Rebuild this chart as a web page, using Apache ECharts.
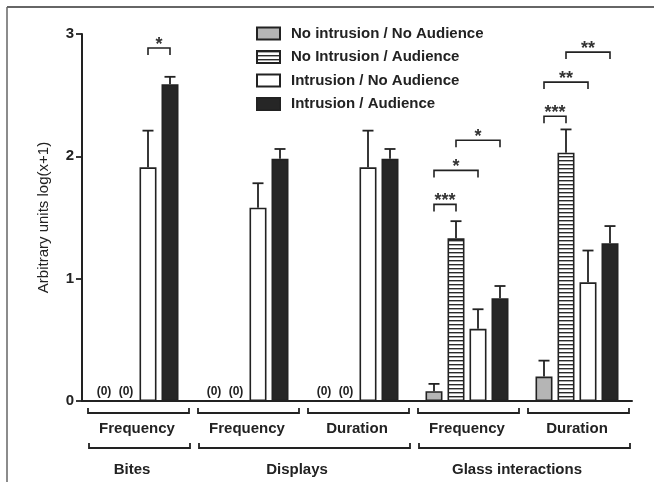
<!DOCTYPE html>
<html>
<head>
<meta charset="utf-8">
<script src="https://cdn.jsdelivr.net/npm/echarts@6/dist/echarts.min.js"></script>
<style>
html,body{margin:0;padding:0;background:#fff;}
#c{width:654px;height:482px;}
</style>
</head>
<body>
<div id="c"></div>
<script>
// ---- data ----
const categories = ['Frequency', 'Frequency', 'Duration', 'Frequency', 'Duration'];
const groupNames = ['Bites', 'Displays', 'Glass interactions'];
const groupFrom = [0, 1, 3];
const groupTo = [0, 2, 4];
const seriesNames = ['No intrusion / No Audience', 'No Intrusion / Audience', 'Intrusion / No Audience', 'Intrusion / Audience'];
const noIntNoAud = [0, 0, 0, 0.08, 0.20];
const noIntNoAudErr = [null, null, null, 0.14, 0.33];
const noIntAud = [0, 0, 0, 1.33, 2.03];
const noIntAudErr = [null, null, null, 1.47, 2.22];
const intNoAud = [1.91, 1.58, 1.91, 0.59, 0.97];
const intNoAudErr = [2.21, 1.78, 2.21, 0.75, 1.23];
const intAud = [2.59, 1.98, 1.98, 0.84, 1.29];
const intAudErr = [2.65, 2.06, 2.06, 0.94, 1.43];
const yTicks = [0, 1, 2, 3];
// significance: category, series A, series B, bracket level, label
const sigCat = [0, 3, 3, 3, 4, 4, 4];
const sigA = [2, 0, 0, 1, 0, 0, 1];
const sigB = [3, 1, 2, 3, 1, 2, 3];
const sigLevel = [2.885, 1.607, 1.885, 2.131, 2.328, 2.607, 2.852];
const sigLabel = ['*', '***', '*', '*', '***', '**', '**'];

// ---- style ----
const FONT = "'Liberation Sans', Arial, sans-serif";
const INK = '#222';
const BAR_W = 17;
const GAP_PX = 5;

const stripe = document.createElement('canvas');
stripe.width = 4; stripe.height = 4;
(function () {
  const g = stripe.getContext('2d');
  g.fillStyle = '#fff'; g.fillRect(0, 0, 4, 4);
  g.fillStyle = '#2a2a2a'; g.fillRect(0, 0, 4, 1.4);
})();

const values = [noIntNoAud, noIntAud, intNoAud, intAud];
const errs = [noIntNoAudErr, noIntAudErr, intNoAudErr, intAudErr];
const fills = ['#b5b5b5', { image: stripe, repeat: 'repeat' }, '#ffffff', '#262626'];

function offsetOf(s) { return (s - 1.5) * (BAR_W + GAP_PX); }

const barSeries = values.map((v, s) => ({
  name: seriesNames[s],
  type: 'bar',
  data: v,
  barWidth: BAR_W,
  barGap: (GAP_PX / BAR_W * 100) + '%',
  itemStyle: { color: fills[s], borderColor: INK, borderWidth: 1.6 },
  label: {
    show: true, position: 'top', distance: 3,
    formatter: p => (p.value === 0 ? '(0)' : ''),
    fontFamily: FONT, fontWeight: 'bold', fontSize: 12, color: INK
  },
  emphasis: { disabled: true },
  z: 2
}));

const errData = [];
errs.forEach((arr, s) => arr.forEach((e, c) => {
  if (e != null) errData.push([c, values[s][c], e, s]);
}));

const errSeries = {
  type: 'custom',
  silent: true,
  data: errData,
  z: 3,
  renderItem: function (params, api) {
    const s = api.value(3);
    const p0 = api.coord([api.value(0), api.value(1)]);
    const p1 = api.coord([api.value(0), api.value(2)]);
    const x = p0[0] + offsetOf(s);
    return {
      type: 'group',
      children: [
        { type: 'line', shape: { x1: x, y1: p0[1], x2: x, y2: p1[1] }, style: { stroke: INK, lineWidth: 1.8 } },
        { type: 'line', shape: { x1: x - 5.5, y1: p1[1], x2: x + 5.5, y2: p1[1] }, style: { stroke: INK, lineWidth: 1.8 } }
      ]
    };
  }
};

const sigData = sigCat.map((c, i) => [c, sigA[i], sigB[i], sigLevel[i], i]);
const sigSeries = {
  type: 'custom',
  silent: true,
  data: sigData,
  z: 4,
  renderItem: function (params, api) {
    const c = api.value(0);
    const p = api.coord([c, api.value(3)]);
    const xa = p[0] + offsetOf(api.value(1));
    const xb = p[0] + offsetOf(api.value(2));
    const y = p[1];
    return {
      type: 'group',
      children: [
        { type: 'polyline', shape: { points: [[xa, y + 7], [xa, y], [xb, y], [xb, y + 7]] }, style: { stroke: INK, lineWidth: 1.6, fill: null } },
        { type: 'text', style: { text: sigLabel[api.value(4)], x: (xa + xb) / 2, y: y - 3, align: 'center', verticalAlign: 'middle', font: 'bold 18px ' + FONT, fill: '#333' } }
      ]
    };
  }
};

const catBracketSeries = {
  type: 'custom',
  silent: true,
  data: categories.map((n, i) => [i]),
  z: 4,
  renderItem: function (params, api) {
    const p = api.coord([api.value(0), 0]);
    const x1 = p[0] - 49, x2 = p[0] + 52, y = p[1] + 12;
    return {
      type: 'group',
      children: [
        { type: 'polyline', shape: { points: [[x1, y - 5], [x1, y], [x2, y], [x2, y - 5]] }, style: { stroke: INK, lineWidth: 1.8, fill: null } }
      ]
    };
  }
};

const groupSeries = {
  type: 'custom',
  silent: true,
  data: groupNames.map((n, i) => [groupFrom[i], groupTo[i], i]),
  z: 4,
  renderItem: function (params, api) {
    const pa = api.coord([api.value(0), 0]);
    const pb = api.coord([api.value(1), 0]);
    const x1 = pa[0] - 48, x2 = pb[0] + 53, y = pa[1] + 47;
    return {
      type: 'group',
      children: [
        { type: 'polyline', shape: { points: [[x1, y - 5], [x1, y], [x2, y], [x2, y - 5]] }, style: { stroke: INK, lineWidth: 1.8, fill: null } },
        { type: 'text', style: { text: groupNames[api.value(2)], x: (pa[0] + pb[0]) / 2 - 5, y: y + 22, align: 'center', verticalAlign: 'middle', font: 'bold 15px ' + FONT, fill: INK } }
      ]
    };
  }
};

const chart = echarts.init(document.getElementById('c'), null, { renderer: 'canvas' });
chart.setOption({
  animation: false,
  backgroundColor: '#fff',
  textStyle: { fontFamily: FONT },
  grid: { left: 82, right: 22, top: 34, bottom: 81, containLabel: false },
  legend: {
    data: seriesNames,
    orient: 'vertical',
    left: 256, top: 25,
    padding: 0,
    itemWidth: 23, itemHeight: 12, itemGap: 6.5,
    icon: 'rect',
    selectedMode: false,
    textStyle: { fontFamily: FONT, fontWeight: 'bold', fontSize: 15, color: INK, lineHeight: 17, padding: [0, 0, 0, 6] }
  },
  xAxis: {
    type: 'category',
    data: categories,
    axisLine: { lineStyle: { color: INK, width: 2 } },
    axisTick: { show: false },
    axisLabel: { margin: 20, fontFamily: FONT, fontWeight: 'bold', fontSize: 15, color: INK, interval: 0 },
    splitLine: { show: false }
  },
  yAxis: {
    type: 'value',
    min: yTicks[0], max: yTicks[yTicks.length - 1], interval: 1,
    name: 'Arbitrary units log(x+1)',
    nameLocation: 'middle', nameGap: 31,
    nameTextStyle: { fontFamily: FONT, fontSize: 15, color: INK },
    axisLine: { show: true, lineStyle: { color: INK, width: 2 } },
    axisTick: { show: true, length: 6, lineStyle: { color: INK, width: 1.8 } },
    axisLabel: { fontFamily: FONT, fontWeight: 'bold', fontSize: 15, color: INK, margin: 8 },
    splitLine: { show: false }
  },
  graphic: [
    { type: 'line', shape: { x1: 7, y1: 7, x2: 654, y2: 7 }, style: { stroke: '#333', lineWidth: 1.5 } },
    { type: 'line', shape: { x1: 7, y1: 7, x2: 7, y2: 482 }, style: { stroke: '#666', lineWidth: 1.5 } }
  ],
  series: barSeries.concat([errSeries, sigSeries, catBracketSeries, groupSeries])
});
</script>
</body>
</html>
